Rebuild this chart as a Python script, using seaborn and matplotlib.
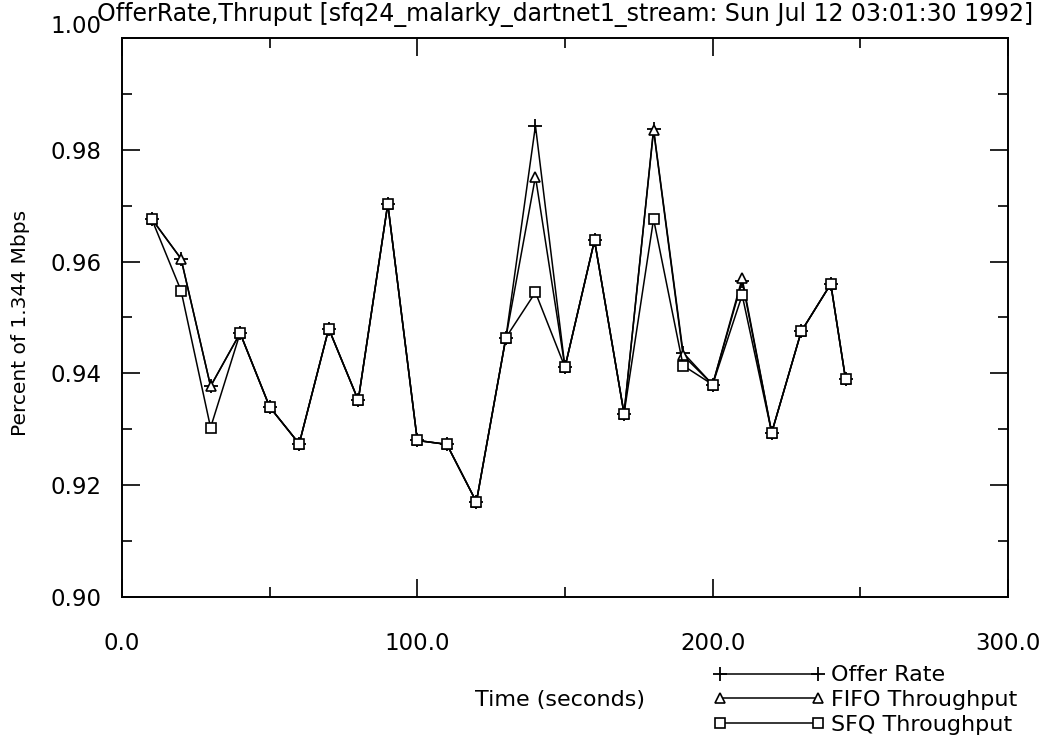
import numpy as np
import pandas as pd
import matplotlib
matplotlib.use("Agg")
import matplotlib.pyplot as plt
import matplotlib.transforms as mtransforms
from matplotlib.ticker import MultipleLocator, FixedLocator
import seaborn as sns

# Sample times (seconds)
time_s = [10, 20, 30, 40, 50, 60, 70, 80, 90, 100, 110, 120, 130, 140, 150,
          160, 170, 180, 190, 200, 210, 220, 230, 240, 245]

# Fraction of 1.344 Mbps
offer_rate = [0.9677, 0.9605, 0.9377, 0.9472, 0.9340, 0.9274, 0.9480, 0.9352,
              0.9703, 0.9280, 0.9273, 0.9170, 0.9464, 0.9843, 0.9411, 0.9638,
              0.9328, 0.9837, 0.9437, 0.9380, 0.9565, 0.9294, 0.9475, 0.9560,
              0.9390]
fifo_thru = [0.9677, 0.9605, 0.9377, 0.9472, 0.9340, 0.9274, 0.9480, 0.9352,
             0.9703, 0.9280, 0.9273, 0.9170, 0.9464, 0.9752, 0.9411, 0.9638,
             0.9328, 0.9835, 0.9432, 0.9380, 0.9570, 0.9294, 0.9475, 0.9560,
             0.9390]
sfq_thru = [0.9677, 0.9548, 0.9303, 0.9472, 0.9340, 0.9274, 0.9480, 0.9352,
            0.9703, 0.9280, 0.9273, 0.9170, 0.9464, 0.9545, 0.9411, 0.9638,
            0.9328, 0.9676, 0.9414, 0.9380, 0.9540, 0.9294, 0.9475, 0.9560,
            0.9390]

series_names = ["Offer Rate", "FIFO Throughput", "SFQ Throughput"]
x_ticks = [0.0, 100.0, 200.0, 300.0]
y_ticks = [0.90, 0.92, 0.94, 0.96, 0.98, 1.00]

df = pd.DataFrame({
    "time": time_s * 3,
    "value": offer_rate + fifo_thru + sfq_thru,
    "series": np.repeat(series_names, len(time_s)),
})

sns.set_style("ticks")
plt.rcParams["font.family"] = ["DejaVu Sans"]
plt.rcParams["text.color"] = "black"
plt.rcParams["xtick.color"] = "black"
plt.rcParams["ytick.color"] = "black"
plt.rcParams["axes.labelcolor"] = "black"

fig = plt.figure(figsize=(10.48, 7.45), dpi=100)
ax = fig.add_axes([0.1164, 0.1987, 0.8454, 0.7503])

marker_styles = {
    "Offer Rate": dict(marker="+", markersize=10, markeredgewidth=1.3,
                       markeredgecolor="black"),
    "FIFO Throughput": dict(marker="^", markersize=6.5, markeredgewidth=1.2,
                            markerfacecolor="white", markeredgecolor="black"),
    "SFQ Throughput": dict(marker="s", markersize=6.5, markeredgewidth=1.2,
                           markerfacecolor="white", markeredgecolor="black"),
}

for name in series_names:
    sub = df[df["series"] == name]
    sns.lineplot(data=sub, x="time", y="value", ax=ax, color="black",
                 linewidth=1.1, label=name, legend=False, **marker_styles[name])

ax.set_xlim(0, 300)
ax.set_ylim(0.90, 1.00)

for side in ["top", "right", "left", "bottom"]:
    ax.spines[side].set_visible(True)
    ax.spines[side].set_linewidth(1.4)
    ax.spines[side].set_color("black")

ax.xaxis.set_major_locator(FixedLocator(x_ticks))
ax.xaxis.set_minor_locator(MultipleLocator(50))
ax.yaxis.set_major_locator(FixedLocator(y_ticks))
ax.yaxis.set_minor_locator(MultipleLocator(0.01))
ax.set_xticklabels([f"{v:.1f}" for v in x_ticks])
ax.set_yticklabels([f"{v:.2f}" for v in y_ticks])

ax.tick_params(which="both", direction="in", top=True, right=True,
               color="black", width=1.2)
ax.tick_params(which="major", length=13)
ax.tick_params(which="minor", length=7)
ax.tick_params(axis="x", which="major", pad=25, labelsize=16.5)
ax.tick_params(axis="y", which="major", pad=15, labelsize=16.5)

# lift the top y label slightly above the frame corner
top_lbl = ax.get_yticklabels()[-1]
top_lbl.set_transform(top_lbl.get_transform() +
                      mtransforms.ScaledTranslation(0, 0.14, fig.dpi_scale_trans))

ax.set_xlabel("")
ax.set_ylabel("Percent of 1.344 Mbps", fontsize=14.5)
ax.yaxis.set_label_coords(-0.104, 0.49)

fig.text(0.534, 0.0604, "Time (seconds)", fontsize=16, ha="center", va="center")
fig.text(0.093, 0.981,
         "OfferRate,Thruput [sfq24_malarky_dartnet1_stream: Sun Jul 12 03:01:30 1992]",
         fontsize=17, ha="left", va="center")

handles, labels = ax.get_legend_handles_labels()
fig.legend(handles, labels, loc="upper left", bbox_to_anchor=(0.681, 0.107),
           frameon=False, numpoints=2, handlelength=5.0, handletextpad=0.3,
           labelspacing=0.22, fontsize=16, borderpad=0, borderaxespad=0)

fig.savefig("out.png", dpi=100, facecolor="white")
